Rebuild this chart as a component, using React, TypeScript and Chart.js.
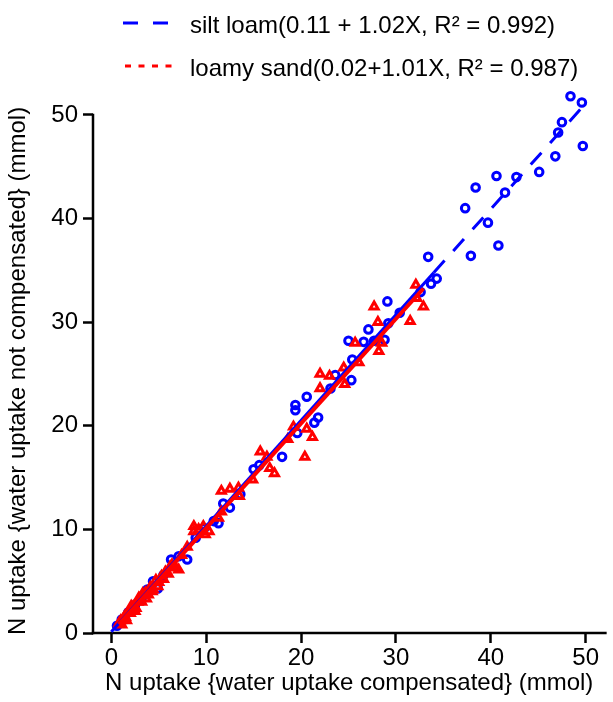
import React, { useEffect, useRef } from 'react';
import { Chart, registerables } from 'chart.js';

Chart.register(...registerables);

// ---- data ----
const siltX = [0.6, 1.1, 1.8, 2.5, 3.2, 3.8, 4.4, 4.9, 5.5, 6.3, 7.1, 8.0, 8.9, 9.8, 10.8, 11.3, 11.8, 12.5, 13.6, 15.0, 15.6, 18.0, 19.4, 19.6, 19.4, 20.6, 21.4, 21.8, 23.1, 23.6, 25.0, 25.3, 25.4, 26.6, 27.1, 27.7, 28.8, 29.2, 29.1, 30.4, 32.6, 33.7, 34.3, 33.4, 37.3, 37.9, 38.4, 39.7, 40.6, 40.8, 41.5, 42.7, 45.1, 46.8, 47.1, 47.5, 48.4, 49.6, 49.7];
const siltY = [0.7, 1.3, 2.0, 2.7, 3.4, 4.2, 5.0, 4.3, 5.6, 7.1, 7.4, 7.1, 9.2, 10.1, 10.8, 10.6, 12.5, 12.1, 13.4, 15.8, 16.2, 17.0, 22.0, 19.3, 21.5, 22.8, 20.3, 20.8, 23.6, 24.9, 28.2, 24.4, 26.4, 28.1, 29.3, 28.2, 28.3, 29.9, 32.0, 30.9, 32.9, 33.7, 34.2, 36.3, 41.0, 36.4, 43.0, 39.6, 44.1, 37.4, 42.5, 44.0, 44.5, 46.0, 48.3, 49.3, 51.8, 51.2, 47.0];

const sandX = [0.8, 1.0, 1.1, 1.2, 1.4, 1.5, 1.6, 1.7, 1.9, 2.0, 2.1, 2.2, 2.4, 2.5, 2.6, 2.8, 2.9, 3.0, 3.2, 3.3, 3.4, 3.6, 3.7, 3.9, 4.1, 4.3, 4.4, 4.7, 4.9, 5.0, 5.3, 5.5, 5.7, 6.0, 6.2, 6.4, 6.8, 7.1, 7.4, 8.0, 8.7, 8.7, 9.2, 9.7, 9.9, 10.3, 11.3, 11.6, 11.6, 12.5, 13.4, 13.5, 14.9, 15.7, 16.4, 16.7, 17.2, 18.6, 19.2, 20.4, 20.6, 21.2, 22.0, 22.0, 23.0, 24.5, 24.6, 25.7, 26.1, 27.7, 28.1, 28.2, 28.5, 31.5, 32.1, 32.2, 32.9];
const sandY = [0.9, 1.2, 0.8, 1.3, 1.6, 1.5, 1.2, 1.9, 2.1, 1.9, 2.6, 2.5, 2.6, 2.1, 2.4, 3.0, 3.4, 3.3, 3.0, 3.8, 3.6, 3.9, 3.3, 3.7, 4.4, 4.0, 4.2, 5.1, 4.5, 4.9, 5.5, 5.2, 5.9, 5.7, 6.4, 6.6, 6.3, 6.1, 7.5, 8.3, 9.8, 10.3, 10.0, 10.3, 9.5, 9.8, 11.1, 11.7, 13.7, 13.9, 14.0, 13.2, 14.8, 17.5, 17.0, 15.9, 15.4, 18.7, 19.9, 17.0, 19.7, 18.9, 23.6, 25.0, 24.8, 25.6, 24.0, 28.0, 26.1, 31.5, 30.0, 27.2, 28.0, 30.1, 33.6, 32.3, 31.5];

const siltFit = { a: 0.11, b: 1.02 };
const sandFit = { a: 0.02, b: 1.01 };
const siltSolidUntil = 34;

const legendLabels = [
  'silt loam(0.11 + 1.02X, R\u00B2 = 0.992)',
  'loamy sand(0.02+1.01X, R\u00B2 = 0.987)',
];
const xTitle = 'N uptake {water uptake compensated} (mmol)';
const yTitle = 'N uptake {water uptake not compensated} (mmol)';
const xTicks = [0, 10, 20, 30, 40, 50];
const yTicks = [0, 10, 20, 30, 40, 50];

const FONT = "'Liberation Sans', Arial, Helvetica, sans-serif";
const BLUE = '#0000FF';
const RED = '#FF0000';

const toPts = (xs: number[], ys: number[]) => xs.map((x, i) => ({ x, y: ys[i] }));
const fitPts = (fit: { a: number; b: number }, x0: number, x1: number) => [
  { x: x0, y: fit.a + fit.b * x0 },
  { x: x1, y: fit.a + fit.b * x1 },
];

const axisLinesPlugin = {
  id: 'axisLines',
  beforeDatasetsDraw(chart: any) {
    const { ctx, chartArea, scales } = chart;
    const y = scales.y;
    ctx.save();
    ctx.strokeStyle = '#000';
    ctx.lineWidth = 2.5;
    ctx.lineCap = 'square';
    const y0 = y.getPixelForValue(yTicks[0]);
    const yTop = y.getPixelForValue(yTicks[yTicks.length - 1]);
    ctx.beginPath();
    ctx.moveTo(chartArea.left, y0);
    ctx.lineTo(chartArea.right, y0);
    ctx.stroke();
    ctx.beginPath();
    ctx.moveTo(chartArea.left, y0);
    ctx.lineTo(chartArea.left, yTop);
    ctx.stroke();
    // y axis title, centred on the 0..50 axis line
    ctx.fillStyle = '#000';
    ctx.font = `24px ${FONT}`;
    ctx.textAlign = 'center';
    ctx.textBaseline = 'middle';
    ctx.translate(18, (y0 + yTop) / 2 - 3);
    ctx.rotate(-Math.PI / 2);
    ctx.fillText(yTitle, 0, 0);
    ctx.restore();
  },
};

const legendPlugin = {
  id: 'customLegend',
  afterDraw(chart: any) {
    const { ctx } = chart;
    const rows = [
      { color: BLUE, dash: [15, 15], x0: 123, x1: 168, ly: 23, ty: 33, text: legendLabels[0] },
      { color: RED, dash: [6, 7.5], x0: 125, x1: 172, ly: 66, ty: 76, text: legendLabels[1] },
    ];
    ctx.save();
    for (const r of rows) {
      ctx.strokeStyle = r.color;
      ctx.lineWidth = 3;
      ctx.setLineDash(r.dash);
      ctx.lineCap = 'butt';
      ctx.beginPath();
      ctx.moveTo(r.x0, r.ly);
      ctx.lineTo(r.x1, r.ly);
      ctx.stroke();
      ctx.setLineDash([]);
      ctx.fillStyle = '#000';
      ctx.font = `24px ${FONT}`;
      ctx.textBaseline = 'alphabetic';
      ctx.textAlign = 'left';
      ctx.fillText(r.text, 190, r.ty);
    }
    ctx.restore();
  },
};

export default function App() {
  const ref = useRef<HTMLCanvasElement | null>(null);
  useEffect(() => {
    if (!ref.current) return;
    const sandMin = Math.min(...sandX);
    const sandMax = Math.max(...sandX);
    const siltMax = Math.max(...siltX);
    const tickFont = { family: FONT, size: 24 };
    const chart = new Chart(ref.current, {
      type: 'scatter',
      data: {
        datasets: [
          {
            label: 'sand fit',
            data: fitPts(sandFit, sandMin, sandMax),
            showLine: true,
            borderColor: RED,
            borderWidth: 4,
            pointRadius: 0,
            clip: false,
          } as any,
          {
            label: 'silt fit solid',
            data: fitPts(siltFit, 0, siltSolidUntil),
            showLine: true,
            borderColor: BLUE,
            borderWidth: 3,
            pointRadius: 0,
            clip: false,
          },
          {
            label: 'silt fit dashed',
            data: fitPts(siltFit, siltSolidUntil, siltMax),
            showLine: true,
            borderColor: BLUE,
            borderWidth: 3,
            borderDash: [16, 13],
            pointRadius: 0,
            clip: false,
          },
          {
            label: 'loamy sand',
            data: toPts(sandX, sandY),
            pointStyle: 'triangle',
            pointRadius: 4.6,
            borderWidth: 3,
            borderColor: RED,
            backgroundColor: 'rgba(0,0,0,0)',
            clip: false,
          },
          {
            label: 'silt loam',
            data: toPts(siltX, siltY),
            pointStyle: 'circle',
            pointRadius: 3.8,
            borderWidth: 3,
            borderColor: BLUE,
            backgroundColor: 'rgba(0,0,0,0)',
            clip: false,
          },
        ] as any,
      },
      options: {
        responsive: false,
        animation: false,
        events: [],
        layout: { padding: { top: 89, right: 1, left: 0, bottom: 0 } },
        plugins: { legend: { display: false }, tooltip: { enabled: false } },
        scales: {
          x: {
            type: 'linear',
            min: -1.93,
            max: 52.08,
            afterFit: (s: any) => { s.height = 69; },
            afterBuildTicks: (s: any) => { s.ticks = xTicks.map((v) => ({ value: v })); },
            ticks: { stepSize: 10, includeBounds: false, font: tickFont, color: '#000', padding: 1, maxRotation: 0, autoSkip: false },
            grid: { display: true, drawOnChartArea: false, drawTicks: true, tickLength: 10, tickWidth: 2.5, tickColor: '#000' },
            border: { display: false },
            title: { display: true, text: xTitle, font: tickFont, color: '#000', padding: { top: 0, bottom: 4.6 } },
          },
          y: {
            type: 'linear',
            min: 0,
            max: 52.5,
            afterFit: (s: any) => { s.width = 93; },
            afterBuildTicks: (s: any) => { s.ticks = yTicks.map((v) => ({ value: v })); },
            ticks: { stepSize: 10, includeBounds: false, font: tickFont, color: '#000', padding: 5, autoSkip: false },
            grid: { display: true, drawOnChartArea: false, drawTicks: true, tickLength: 10, tickWidth: 2.5, tickColor: '#000' },
            border: { display: false },
            title: { display: false },
          },
        },
      } as any,
      plugins: [axisLinesPlugin, legendPlugin],
    });
    return () => chart.destroy();
  }, []);
  return (
    <div style={{ position: 'fixed', left: 0, top: 0, width: 613, height: 702, background: '#fff' }}>
      <canvas ref={ref} width={613} height={702} style={{ display: 'block' }} />
    </div>
  );
}
